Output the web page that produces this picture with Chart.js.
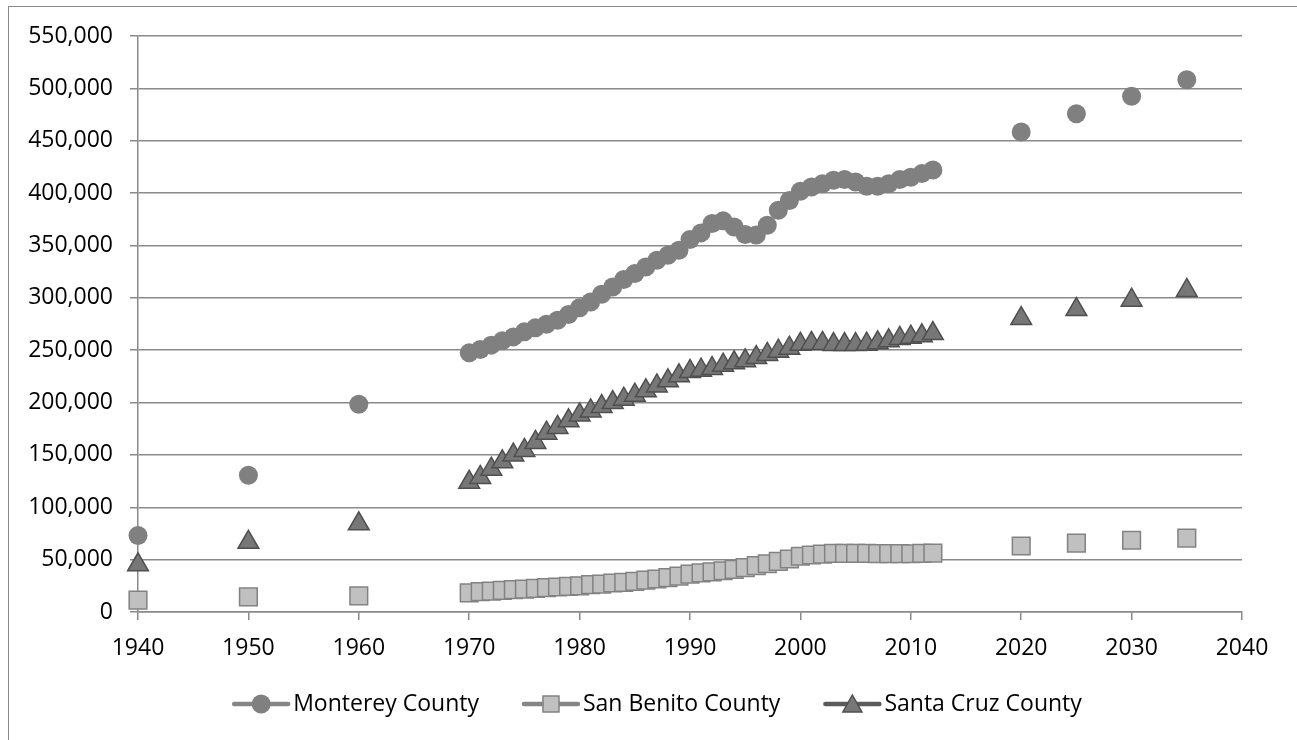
<!DOCTYPE html>
<html>
<head>
<meta charset="utf-8">
<script src="https://cdn.jsdelivr.net/npm/chart.js@4.4.1/dist/chart.umd.min.js"></script>
<style>
html,body{margin:0;padding:0;background:#fff;overflow:hidden;}
#frame{position:absolute;left:8px;top:6px;width:1400px;height:900px;border:1px solid #8a8a8a;box-sizing:border-box;}
#wrap{position:absolute;left:0;top:0;width:1297px;height:740px;}
</style>
</head>
<body>
<div id="frame"></div>
<div id="wrap"><canvas id="c" width="1297" height="740"></canvas></div>
<script>
// ---- data ----
const years = [1940, 1950, 1960,
  1970, 1971, 1972, 1973, 1974, 1975, 1976, 1977, 1978, 1979,
  1980, 1981, 1982, 1983, 1984, 1985, 1986, 1987, 1988, 1989,
  1990, 1991, 1992, 1993, 1994, 1995, 1996, 1997, 1998, 1999,
  2000, 2001, 2002, 2003, 2004, 2005, 2006, 2007, 2008, 2009,
  2010, 2011, 2012,
  2020, 2025, 2030, 2035];

const montereyCounty = [73032, 130498, 198351,
  247450, 250600, 254800, 258900, 262700, 267500, 271300, 274800, 278600, 284000,
  290444, 296000, 303400, 310400, 317500, 323200, 329500, 335900, 340700, 345400,
  355660, 362000, 370900, 373500, 367600, 360500, 360000, 369300, 383600, 393000,
  401762, 405800, 409000, 412200, 413000, 410600, 406500, 406500, 409000, 413000,
  415057, 418600, 422000,
  458300, 475800, 492400, 508300];

const sanBenitoCounty = [11392, 14370, 15396,
  18226, 19400, 20000, 20700, 21300, 21900, 22600, 23200, 23900, 24400,
  25005, 26100, 26700, 27700, 28300, 29300, 30500, 31500, 32800, 34200,
  36100, 37300, 38300, 39400, 40700, 42300, 44200, 46100, 48300, 50600,
  53234, 54400, 55300, 56000, 56000, 56000, 56000, 55700, 55700, 55700,
  55600, 56000, 56300,
  63000, 65800, 68500, 70600];

const santaCruzCounty = [45057, 66534, 84219,
  123790, 128500, 136400, 143400, 149800, 154300, 161900, 170800, 176200, 182500,
  188141, 192000, 196200, 200000, 203200, 207000, 211200, 215900, 220700, 225500,
  229734, 230900, 232500, 235700, 237900, 239800, 243000, 245900, 249000, 251900,
  255602, 256400, 256400, 255400, 255400, 255400, 255700, 257000, 258900, 261200,
  262382, 263700, 265900,
  280200, 288800, 297700, 307000];

const seriesNames = ['Monterey County', 'San Benito County', 'Santa Cruz County'];
const xTicks = {min: 1940, max: 2040, step: 10};
const yTicks = {min: 0, max: 550000, step: 50000};

// ---- styling ----
const FONT = {family: '"Open Sans", "Liberation Sans", sans-serif', size: 23};
const GRID = '#8a8a8a';
const MARKERS = [
  {kind: 'circle', line: '#858585'},
  {kind: 'rect', line: '#858585'},
  {kind: 'tri', line: '#5a5a5a'}
];
const LEGEND = {centerX: 657, y: 704, lineLen: 58, textGap: 3, itemGap: 43};

function pts(vals) { return years.map((y, i) => ({x: y, y: vals[i]})); }

function drawMarker(g, kind, cx, cy) {
  if (kind === 'circle') {
    g.fillStyle = '#808080';
    g.beginPath(); g.arc(cx, cy, 9.5, 0, Math.PI * 2); g.fill();
  } else if (kind === 'rect') {
    g.fillStyle = '#c0c0c0'; g.strokeStyle = '#828282'; g.lineWidth = 1.5;
    g.fillRect(cx - 8, cy - 8, 16, 16); g.strokeRect(cx - 8, cy - 8, 16, 16);
  } else {
    g.fillStyle = '#777777'; g.strokeStyle = '#4f4f4f'; g.lineWidth = 1.5; g.lineJoin = 'miter';
    g.beginPath(); g.moveTo(cx, cy - 9); g.lineTo(cx + 9.5, cy + 8); g.lineTo(cx - 9.5, cy + 8); g.closePath();
    g.fill(); g.stroke();
  }
}

// Legend that shows a line segment with the series marker, as in the reference
const lineMarkerLegend = {
  id: 'lineMarkerLegend',
  afterDraw(chart) {
    const g = chart.ctx;
    g.save();
    g.font = FONT.size + 'px ' + FONT.family;
    g.textBaseline = 'middle';
    g.textAlign = 'left';
    const names = chart.data.datasets.map(d => d.label);
    const widths = names.map(n => LEGEND.lineLen + LEGEND.textGap + g.measureText(n).width);
    const total = widths.reduce((a, b) => a + b, 0) + LEGEND.itemGap * (names.length - 1);
    let x = LEGEND.centerX - total / 2;
    const y = LEGEND.y;
    names.forEach((n, i) => {
      g.lineCap = 'round';
      g.lineWidth = 4.5;
      g.strokeStyle = MARKERS[i].line;
      g.beginPath(); g.moveTo(x + 2, y); g.lineTo(x + LEGEND.lineLen - 2, y); g.stroke();
      drawMarker(g, MARKERS[i].kind, x + LEGEND.lineLen / 2, y);
      g.fillStyle = '#000';
      g.fillText(n, x + LEGEND.lineLen + LEGEND.textGap, y);
      x += widths[i] + LEGEND.itemGap;
    });
    g.restore();
  }
};

new Chart(document.getElementById('c'), {
  type: 'scatter',
  data: {
    datasets: [
      {label: seriesNames[0], data: pts(montereyCounty), pointStyle: 'circle', pointRadius: 9.5, pointHoverRadius: 9.5,
       backgroundColor: '#808080', borderColor: '#808080', borderWidth: 0, showLine: false, clip: false},
      {label: seriesNames[1], data: pts(sanBenitoCounty), pointStyle: 'rect', pointRadius: 12.5, pointHoverRadius: 12.5,
       backgroundColor: '#c0c0c0', borderColor: '#828282', borderWidth: 1.5, showLine: false, clip: false},
      {label: seriesNames[2], data: pts(santaCruzCounty), pointStyle: 'triangle', pointRadius: 12, pointHoverRadius: 12,
       backgroundColor: '#777777', borderColor: '#4f4f4f', borderWidth: 1.5, showLine: false, clip: false}
    ]
  },
  plugins: [lineMarkerLegend],
  options: {
    responsive: false,
    animation: false,
    events: [],
    layout: {padding: {left: 0, right: 55, top: 36, bottom: 76}},
    plugins: {
      tooltip: {enabled: false},
      legend: {display: false}
    },
    scales: {
      x: {
        type: 'linear', position: 'bottom',
        min: xTicks.min, max: xTicks.max,
        afterFit: s => { s.height = 52; },
        ticks: {stepSize: xTicks.step, color: '#000', font: FONT, padding: 15, maxRotation: 0,
                callback: v => String(v)},
        grid: {drawOnChartArea: false, drawTicks: true, tickLength: 8, color: GRID, lineWidth: 1.5},
        border: {display: true, color: GRID, width: 1.5}
      },
      y: {
        min: yTicks.min, max: yTicks.max,
        afterFit: s => { s.width = 138; },
        ticks: {stepSize: yTicks.step, color: '#000', font: FONT, padding: 17,
                callback: v => Number(v).toLocaleString('en-US')},
        grid: {color: GRID, lineWidth: 1.5, tickLength: 8, drawTicks: true},
        border: {display: true, color: GRID, width: 1.5}
      }
    }
  }
});
</script>
</body>
</html>
